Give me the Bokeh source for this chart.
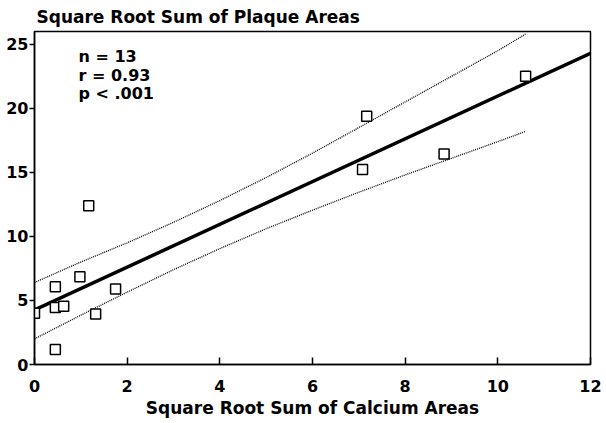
from bokeh.plotting import figure
from bokeh.models import Range1d, FixedTicker, Label
from bokeh.embed import file_html
from bokeh.resources import INLINE

# Data
calcium = [0.0, 0.45, 0.45, 0.63, 0.45, 0.98, 1.17, 1.32, 1.75, 7.17, 7.08, 8.84, 10.6]
plaque = [4.0, 6.07, 4.46, 4.54, 1.17, 6.85, 12.4, 3.94, 5.89, 19.38, 15.23, 16.44, 22.5]

fit_x = [0, 12]
fit_y = [4.26, 24.3]

band_x = [0, 1, 2, 3, 4, 5, 6, 7, 8, 9, 10, 10.6]
band_upper = [6.4, 8.0, 9.5, 11.1, 12.8, 14.6, 16.5, 18.5, 20.5, 22.5, 24.5, 25.8]
band_lower = [2.0, 3.85, 5.65, 7.4, 9.05, 10.6, 12.05, 13.45, 14.8, 16.1, 17.4, 18.2]

x_ticks = [0, 2, 4, 6, 8, 10, 12]
y_ticks = [0, 5, 10, 15, 20, 25]

title_text = "Square Root Sum of Plaque Areas"
x_title = "Square Root Sum of Calcium Areas"
stats_lines = ["n = 13", "r = 0.93", "p < .001"]
stats_y = [24.08, 22.57, 21.13]

FONT = "DejaVu Sans"

p = figure(width=604, height=420, output_backend="svg", toolbar_location=None,
           x_range=Range1d(0, 12), y_range=Range1d(0, 26),
           min_border_left=34, min_border_right=14, min_border_top=30, min_border_bottom=56)

p.title.text = title_text
p.title.align = "left"
p.title.text_font = FONT
p.title.text_font_style = "bold"
p.title.text_font_size = "17px"
p.title.text_color = "black"
p.title.offset = 2
p.title.standoff = 9

p.grid.visible = False
p.outline_line_color = "black"
p.outline_line_width = 1.5
p.background_fill_color = "white"
p.border_fill_color = "white"

p.xaxis.ticker = FixedTicker(ticks=x_ticks)
p.yaxis.ticker = FixedTicker(ticks=y_ticks)
for ax in (p.xaxis[0], p.yaxis[0]):
    ax.axis_line_color = "black"
    ax.axis_line_width = 1.5
    ax.major_tick_line_color = "black"
    ax.major_tick_line_width = 1.5
    ax.minor_tick_line_color = None
    ax.major_label_text_font = FONT
    ax.major_label_text_font_style = "bold"
    ax.major_label_text_font_size = "16px"
    ax.major_label_text_color = "black"

p.xaxis.major_tick_in = 7
p.xaxis.major_tick_out = 0
p.xaxis.major_label_standoff = 15
p.xaxis.axis_label = x_title
p.xaxis.axis_label_text_font = FONT
p.xaxis.axis_label_text_font_style = "bold"
p.xaxis.axis_label_text_font_size = "17px"
p.xaxis.axis_label_text_color = "black"
p.xaxis.axis_label_standoff = 3

p.yaxis.major_tick_in = 0
p.yaxis.major_tick_out = 5
p.yaxis.major_label_standoff = 1

p.line(band_x, band_upper, line_color="black", line_width=1.3, line_dash="1 1")
p.line(band_x, band_lower, line_color="black", line_width=1.3, line_dash="1 1")
p.line(fit_x, fit_y, line_color="black", line_width=3.5)
p.scatter(calcium, plaque, marker="square", size=10, fill_color="white",
          line_color="black", line_width=1.5)

for t, yv in zip(stats_lines, stats_y):
    p.add_layout(Label(x=0.95, y=yv, text=t, text_font=FONT,
                       text_font_style="bold", text_font_size="16px",
                       text_color="black", text_baseline="middle"))

open("out.html", "w").write(file_html(p, INLINE))
